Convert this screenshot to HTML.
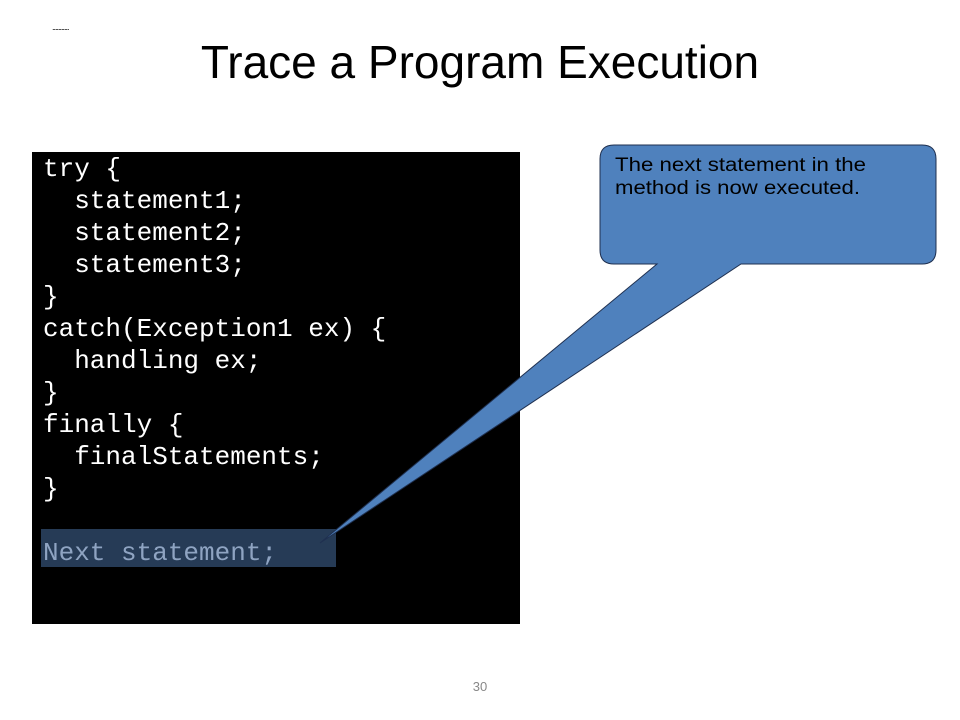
<!DOCTYPE html>
<html><head><style>
body{margin:0;width:960px;height:720px;background:#fff;position:relative;overflow:hidden;font-family:"Liberation Sans",sans-serif}
.t{position:absolute;left:0;width:960px;top:35px;text-align:center;font-size:46px;color:#000}
.code{position:absolute;left:32px;top:152px;width:488px;height:472px;background:#000}
.l{position:absolute;left:11px;font-family:"Liberation Mono","Courier New",Courier,monospace;font-size:26px;color:#fff;white-space:pre;line-height:32px}
.hl{position:absolute;left:9px;top:377px;width:295px;height:38px;background:#263b56}
.n{position:absolute;left:480px;top:679px;font-size:13px;color:#888;transform:translateX(-50%)}
.dots{position:absolute;left:52px;top:22px;font-size:9px;color:#000;letter-spacing:-1px}
</style></head><body>
<div class="dots">...........</div>
<div class="t">Trace a Program Execution</div>
<div class="code">
<div class="hl"></div>
<div class="l" style="top:1px">try {
  statement1;
  statement2;
  statement3;
}
catch(Exception1 ex) {
  handling ex;
}
finally {
  finalStatements;
}
</div>
<div class="l" style="top:385px;color:#8fa4c2">Next statement;</div>
</div>
<svg width="960" height="720" style="position:absolute;left:0;top:0">
<path d="M614,145 H922 Q936,145 936,159 V250 Q936,264 922,264 H741 L320,543 L657,264 H614 Q600,264 600,250 V159 Q600,145 614,145 Z" fill="#4f81bd" stroke="#1f3050" stroke-width="1"/>
<text x="615" y="171" font-family="Liberation Sans,sans-serif" font-size="19" fill="#000" textLength="251" lengthAdjust="spacingAndGlyphs">The next statement in the</text>
<text x="615" y="194" font-family="Liberation Sans,sans-serif" font-size="19" fill="#000" textLength="245" lengthAdjust="spacingAndGlyphs">method is now executed.</text>
</svg>
<div class="n">30</div>
</body></html>
